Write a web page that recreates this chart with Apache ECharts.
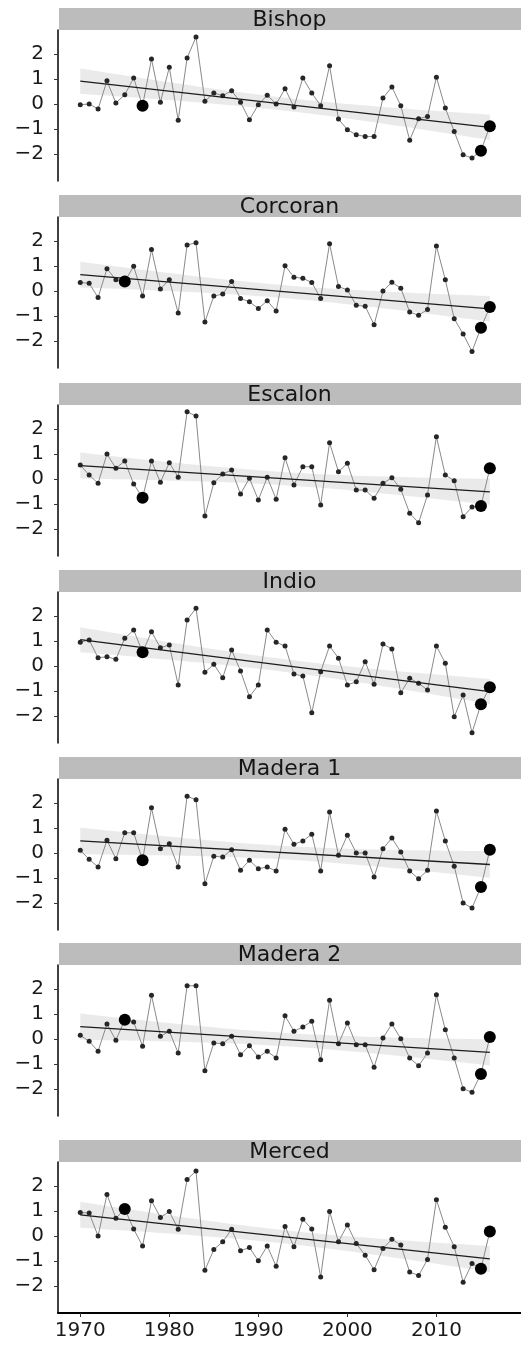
<!DOCTYPE html>
<html>
<head>
<meta charset="utf-8">
<script src="https://cdn.jsdelivr.net/npm/echarts@6/dist/echarts.min.js"></script>
<style>
  html, body { margin: 0; padding: 0; background: #fff; }
  #chart { width: 521px; height: 1351px; }
</style>
</head>
<body>
<div id="chart"></div>
<script>
// Annual standardized anomalies per station, 1970–2016
const years = [1970, 1971, 1972, 1973, 1974, 1975, 1976, 1977, 1978, 1979,
               1980, 1981, 1982, 1983, 1984, 1985, 1986, 1987, 1988, 1989,
               1990, 1991, 1992, 1993, 1994, 1995, 1996, 1997, 1998, 1999,
               2000, 2001, 2002, 2003, 2004, 2005, 2006, 2007, 2008, 2009,
               2010, 2011, 2012, 2013, 2014, 2015, 2016];

const bishop = [-0.03, 0.00, -0.20, 0.93, 0.04, 0.37, 1.04, -0.07, 1.80, 0.07,
                1.47, -0.65, 1.84, 2.68, 0.11, 0.44, 0.33, 0.53, 0.07, -0.63,
                -0.03, 0.35, 0.00, 0.61, -0.12, 1.04, 0.44, -0.07, 1.53, -0.60,
                -1.03, -1.23, -1.30, -1.30, 0.24, 0.68, -0.07, -1.45, -0.59, -0.50,
                1.07, -0.16, -1.10, -2.03, -2.16, -1.87, -0.89];

const corcoran = [0.34, 0.31, -0.26, 0.89, 0.45, 0.38, 0.99, -0.20, 1.66, 0.08,
                  0.45, -0.88, 1.84, 1.93, -1.24, -0.20, -0.12, 0.38, -0.30, -0.43,
                  -0.70, -0.39, -0.80, 1.01, 0.55, 0.51, 0.34, -0.30, 1.89, 0.18,
                  0.04, -0.57, -0.61, -1.35, 0.00, 0.35, 0.11, -0.84, -0.97, -0.74,
                  1.80, 0.45, -1.11, -1.72, -2.42, -1.47, -0.64];

const escalon = [0.56, 0.16, -0.17, 1.00, 0.43, 0.72, -0.20, -0.75, 0.72, -0.13,
                 0.65, 0.07, 2.69, 2.52, -1.48, -0.15, 0.20, 0.36, -0.60, 0.03,
                 -0.84, 0.07, -0.81, 0.85, -0.24, 0.49, 0.49, -1.04, 1.45, 0.29,
                 0.63, -0.44, -0.44, -0.77, -0.17, 0.05, -0.41, -1.37, -1.75, -0.64,
                 1.69, 0.16, -0.07, -1.51, -1.12, -1.08, 0.43];

const indio = [0.95, 1.04, 0.33, 0.37, 0.27, 1.11, 1.44, 0.55, 1.37, 0.73,
               0.84, -0.76, 1.84, 2.31, -0.25, 0.07, -0.47, 0.64, -0.20, -1.23,
               -0.76, 1.44, 0.95, 0.80, -0.32, -0.40, -1.87, -0.23, 0.80, 0.31,
               -0.76, -0.63, 0.17, -0.73, 0.88, 0.68, -1.07, -0.49, -0.69, -0.96,
               0.80, 0.11, -2.03, -1.16, -2.67, -1.53, -0.85];

const madera1 = [0.11, -0.25, -0.56, 0.51, -0.23, 0.81, 0.81, -0.29, 1.81, 0.17,
                 0.37, -0.56, 2.27, 2.13, -1.23, -0.13, -0.16, 0.13, -0.69, -0.29,
                 -0.63, -0.56, -0.72, 0.95, 0.35, 0.48, 0.75, -0.72, 1.64, -0.09,
                 0.71, 0.00, 0.00, -0.96, 0.17, 0.60, 0.04, -0.72, -1.03, -0.69,
                 1.68, 0.48, -0.53, -2.00, -2.20, -1.36, 0.13];

const madera2 = [0.15, -0.09, -0.49, 0.60, -0.05, 0.77, 0.68, -0.29, 1.75, 0.11,
                 0.31, -0.56, 2.13, 2.13, -1.27, -0.16, -0.19, 0.11, -0.63, -0.27,
                 -0.72, -0.49, -0.76, 0.93, 0.31, 0.48, 0.71, -0.83, 1.55, -0.19,
                 0.64, -0.23, -0.23, -1.13, 0.04, 0.60, 0.01, -0.76, -1.07, -0.56,
                 1.77, 0.37, -0.76, -1.99, -2.13, -1.40, 0.08];

const merced = [0.94, 0.92, 0.00, 1.66, 0.71, 1.08, 0.28, -0.40, 1.41, 0.74,
                0.98, 0.27, 2.26, 2.60, -1.37, -0.54, -0.23, 0.27, -0.59, -0.46,
                -0.99, -0.40, -1.21, 0.38, -0.43, 0.67, 0.28, -1.64, 0.98, -0.23,
                0.44, -0.30, -0.77, -1.35, -0.50, -0.13, -0.36, -1.44, -1.58, -0.94,
                1.45, 0.35, -0.43, -1.85, -1.10, -1.31, 0.18];

// Highlighted years, drawn as large points
const keyYearsA = [1977, 2015, 2016];
const keyYearsB = [1975, 2015, 2016];

const stationNames = ['Bishop', 'Corcoran', 'Escalon', 'Indio', 'Madera 1', 'Madera 2', 'Merced'];
const stationValues = [bishop, corcoran, escalon, indio, madera1, madera2, merced];
const stationKeys = [keyYearsA, keyYearsB, keyYearsA, keyYearsA, keyYearsA, keyYearsB, keyYearsB];

const yTicks = [-2, -1, 0, 1, 2];
const xTicks = [1970, 1980, 1990, 2000, 2010];

// Layout
const panelTops = [30, 217, 405, 592, 779, 965, 1162];
const panelH = 151;
const stripH = 22;
const plotLeft = 58;
const Y_MIN = -3.08, Y_MAX = 2.96;
const X_MIN = 1967.5, X_MAX = 2019.5;
const FONT = '"DejaVu Sans", "Liberation Sans", sans-serif';
const T975 = 2.0141; // Student t, 0.975 quantile, 45 df

// Ordinary least squares fit with 95% confidence band for the mean
function linearFit(xs, ys) {
  const n = xs.length;
  let sx = 0, sy = 0;
  for (let i = 0; i < n; i++) { sx += xs[i]; sy += ys[i]; }
  const xbar = sx / n, ybar = sy / n;
  let sxx = 0, sxy = 0;
  for (let i = 0; i < n; i++) {
    sxx += (xs[i] - xbar) * (xs[i] - xbar);
    sxy += (xs[i] - xbar) * (ys[i] - ybar);
  }
  const b = sxy / sxx, a = ybar - b * xbar;
  let rss = 0;
  for (let i = 0; i < n; i++) { const r = ys[i] - (a + b * xs[i]); rss += r * r; }
  const s = Math.sqrt(rss / (n - 2));
  return {
    predict: x => a + b * x,
    half: x => T975 * s * Math.sqrt(1 / n + (x - xbar) * (x - xbar) / sxx)
  };
}

const grids = [], xAxes = [], yAxes = [], series = [], graphics = [];

stationNames.forEach((name, i) => {
  const vals = stationValues[i];
  const top = panelTops[i];
  const last = i === stationNames.length - 1;
  const fit = linearFit(years, vals);

  grids.push({ left: plotLeft, right: 0, top: top, height: panelH });

  xAxes.push({
    type: 'value', gridIndex: i, min: X_MIN, max: X_MAX,
    axisLine: { show: last, onZero: false, lineStyle: { color: '#000', width: 2 } },
    axisTick: { show: last, length: 4, customValues: xTicks, lineStyle: { color: '#333', width: 1 } },
    axisLabel: {
      show: last, customValues: xTicks, margin: 8, fontSize: 20, color: '#1a1a1a', fontFamily: FONT,
      formatter: v => String(v)
    },
    splitLine: { show: false }
  });

  yAxes.push({
    type: 'value', gridIndex: i, min: Y_MIN, max: Y_MAX,
    axisLine: { show: true, onZero: false, lineStyle: { color: '#000', width: 1.5 } },
    axisTick: { show: true, length: 4, customValues: yTicks, lineStyle: { color: '#333', width: 1 } },
    axisLabel: {
      customValues: yTicks, margin: 14, fontSize: 20, color: '#1a1a1a', fontFamily: FONT,
      formatter: v => (v < 0 ? '\u2212' + Math.abs(v) : String(v))
    },
    splitLine: { show: false }
  });

  // confidence band
  series.push({
    type: 'custom', xAxisIndex: i, yAxisIndex: i, silent: true, z: 1,
    data: [[years[0], 0]],
    renderItem: (params, api) => {
      const upper = years.map(x => api.coord([x, fit.predict(x) + fit.half(x)]));
      const lower = years.slice().reverse().map(x => api.coord([x, fit.predict(x) - fit.half(x)]));
      return {
        type: 'polygon',
        shape: { points: upper.concat(lower) },
        style: { fill: '#a0a0a0', opacity: 0.22 }
      };
    }
  });

  // annual series
  series.push({
    type: 'line', xAxisIndex: i, yAxisIndex: i, silent: true, z: 2,
    data: years.map((x, j) => [x, vals[j]]),
    symbol: 'circle', symbolSize: 5, showSymbol: true,
    itemStyle: { color: '#262626', opacity: 1 },
    lineStyle: { color: '#8a8a8a', width: 1 }
  });

  // fitted trend
  series.push({
    type: 'line', xAxisIndex: i, yAxisIndex: i, silent: true, z: 3,
    data: [[years[0], fit.predict(years[0])], [years[years.length - 1], fit.predict(years[years.length - 1])]],
    symbol: 'none',
    lineStyle: { color: '#1c1c1c', width: 1.3 }
  });

  // highlighted years
  series.push({
    type: 'scatter', xAxisIndex: i, yAxisIndex: i, silent: true, z: 4,
    data: stationKeys[i].map(y => [y, vals[years.indexOf(y)]]),
    symbol: 'circle', symbolSize: 12,
    itemStyle: { color: '#000000', opacity: 1 }
  });

  // facet strip
  graphics.push({
    type: 'rect', silent: true,
    shape: { x: plotLeft + 1, y: top - stripH, width: 521 - plotLeft - 1, height: stripH },
    style: { fill: '#bcbcbc' }
  });
  graphics.push({
    type: 'text', silent: true,
    x: plotLeft + (521 - plotLeft) / 2, y: top - stripH / 2 + 1,
    style: { text: name, font: '22px ' + FONT, fill: '#151515', align: 'center', verticalAlign: 'middle' }
  });
});

const chart = echarts.init(document.getElementById('chart'), null, { renderer: 'canvas' });
chart.setOption({
  animation: false,
  backgroundColor: '#ffffff',
  grid: grids,
  xAxis: xAxes,
  yAxis: yAxes,
  series: series,
  graphic: graphics
});
</script>
</body>
</html>
